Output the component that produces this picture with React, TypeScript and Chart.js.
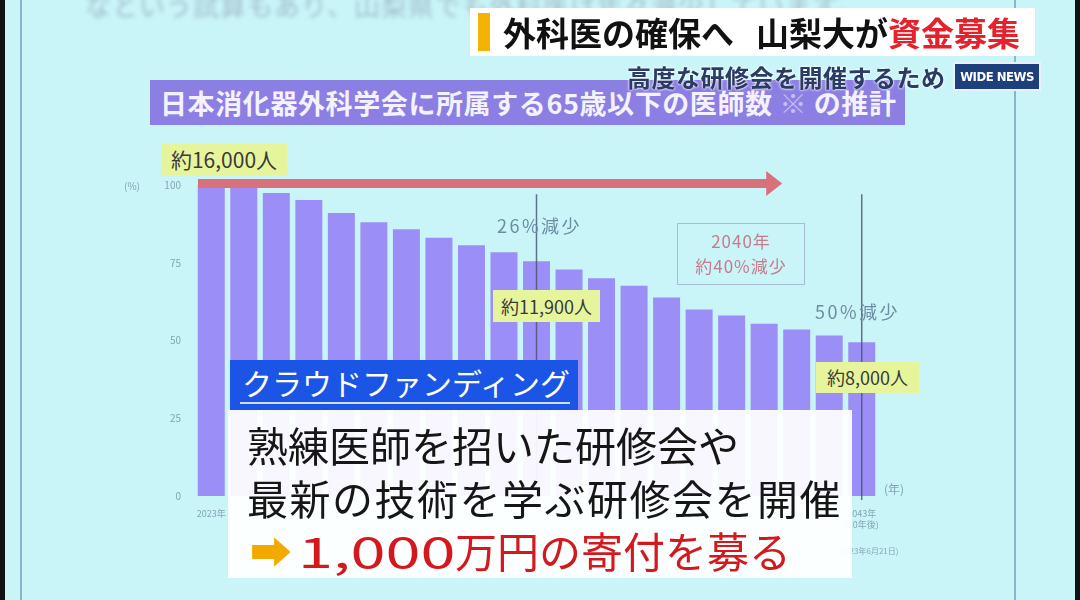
import React, { useEffect, useRef } from "react";
import { Chart, registerables } from "chart.js";

Chart.register(...registerables);

const years = ["2023","2024","2025","2026","2027","2028","2029","2030","2031","2032","2033","2034","2035","2036","2037","2038","2039","2040","2041","2042","2043"];
const percentOf2023 = [100, 99.5, 97.4, 95.2, 91, 88, 85.8, 83, 80.6, 78.4, 75.5, 72.8, 70, 67.6, 63.8, 60, 58, 55.4, 53.5, 51.6, 49.4];
const yTicks = [0, 25, 50, 75, 100];
const firstLabel = "2023年";
const lastLabel = ["2043年", "(20年後)"];
const markerIndexes = [10, 20];

const FONT = '"Noto Sans CJK JP", "Noto Sans", sans-serif';

const decorPlugin = {
  id: "decor",
  afterDatasetsDraw(chart: any) {
    const { ctx, chartArea, scales } = chart;
    const xs = scales.x;
    const ys = scales.y;
    ctx.save();
    ctx.strokeStyle = "rgba(70,80,110,0.8)";
    ctx.lineWidth = 1.5;
    markerIndexes.forEach((i) => {
      const x = xs.getPixelForValue(i);
      ctx.beginPath();
      ctx.moveTo(x, ys.getPixelForValue(97));
      ctx.lineTo(x, chartArea.bottom + 4);
      ctx.stroke();
    });
    const y = ys.getPixelForValue(100) - 2;
    const x0 = chartArea.left + 3;
    const x1 = xs.getPixelForValue(17) + 16;
    ctx.fillStyle = "#d9717d";
    ctx.fillRect(x0, y - 4, x1 - x0 - 12, 9);
    ctx.beginPath();
    ctx.moveTo(x1 - 14, y - 12);
    ctx.lineTo(x1 + 2, y + 0.5);
    ctx.lineTo(x1 - 14, y + 13);
    ctx.lineTo(x1 - 14, y - 12);
    ctx.fill();
    ctx.restore();
  },
};

function ChartCanvas() {
  const ref = useRef<HTMLCanvasElement | null>(null);
  useEffect(() => {
    if (!ref.current) return;
    const chart = new Chart(ref.current, {
      type: "bar",
      data: {
        labels: years,
        datasets: [
          {
            data: percentOf2023,
            backgroundColor: "#9b8ef6",
            barPercentage: 0.83,
            categoryPercentage: 1,
          },
        ],
      },
      options: {
        animation: false,
        responsive: false,
        maintainAspectRatio: false,
        layout: { padding: { left: 165, right: 202, top: 185, bottom: 64 } },
        plugins: { legend: { display: false }, tooltip: { enabled: false }, title: { display: false } },
        scales: {
          x: {
            grid: { display: false },
            border: { display: false },
            afterFit: (s: any) => { s.height = 40; },
            ticks: {
              autoSkip: false,
              maxRotation: 0,
              padding: 4,
              color: "#86a3b6",
              font: { size: 9, family: FONT },
              callback: (_v: any, i: number) => (i === 0 ? firstLabel : i === years.length - 1 ? lastLabel : ""),
            },
          },
          y: {
            min: 0,
            max: 100,
            grid: { display: false },
            border: { display: false },
            afterFit: (s: any) => { s.width = 30; },
            afterBuildTicks: (s: any) => { s.ticks = yTicks.map((v) => ({ value: v })); },
            ticks: { color: "#86a3b6", padding: 6, font: { size: 10, family: FONT } },
          },
        },
      },
      plugins: [decorPlugin],
    });
    return () => chart.destroy();
  }, []);
  return <canvas ref={ref} width={1080} height={600} style={{ position: "absolute", left: 0, top: 0, width: 1080, height: 600 }} />;
}

const abs = (l: number, t: number, extra: any = {}) => ({ position: "absolute" as const, left: l, top: t, ...extra });

export default function App() {
  return (
    <div style={{ position: "absolute", left: 0, top: 0, width: 1080, height: 600, overflow: "hidden", background: "#c9f5f8", fontFamily: FONT }}>
      <div style={abs(20, 0, { width: 2, height: 600, background: "#8fb3cc" })} />
      <div style={abs(1014, 0, { width: 2, height: 600, background: "#8fb3cc" })} />
      <div style={abs(0, 0, { width: 5, height: 600, background: "#111" })} />
      <div style={abs(1075, 0, { width: 5, height: 600, background: "#111" })} />
      <div style={abs(85, -14, { fontSize: 26, color: "#a3bccb", filter: "blur(2px)", whiteSpace: "nowrap", letterSpacing: 1 })}>
        なという試算もあり、山梨県でも外科医は年々減少しています。
      </div>
      <div style={abs(150, 80, { width: 755, height: 45, background: "#8c7fe3", color: "#f4f2ff", fontWeight: 700, fontSize: 27, lineHeight: "45px", paddingLeft: 10, boxSizing: "border-box", whiteSpace: "nowrap", letterSpacing: 0.6 })}>
        日本消化器外科学会に所属する65歳以下の医師数 <span style={{ color: "#c5bdf5" }}>※</span> の推計
      </div>
      <ChartCanvas />
      <div style={abs(124, 178, { fontSize: 10, color: "#86a3b6" })}>(%)</div>
      <div style={abs(884, 480, { fontSize: 12, color: "#86a3b6" })}>(年)</div>
      <div style={abs(838, 545, { fontSize: 8, color: "#86a3b6", whiteSpace: "nowrap" })}>(2023年6月21日)</div>
      <div style={abs(161, 144, { width: 126, height: 31, background: "#e6f59c", color: "#3a3a3a", fontSize: 21, lineHeight: "31px", textAlign: "center", whiteSpace: "nowrap" })}>約16,000人</div>
      <div style={abs(493, 290, { width: 107, height: 32, background: "#e6f59c", color: "#3a3a3a", fontSize: 18, lineHeight: "32px", textAlign: "center", whiteSpace: "nowrap" })}>約11,900人</div>
      <div style={abs(816, 362, { width: 103, height: 31, background: "#e6f59c", color: "#3a3a3a", fontSize: 18, lineHeight: "31px", textAlign: "center", whiteSpace: "nowrap" })}>約8,000人</div>
      <div style={abs(497, 212, { fontSize: 18, color: "#6d8ba2", whiteSpace: "nowrap", letterSpacing: 2.5 })}>26%減少</div>
      <div style={abs(815, 298, { fontSize: 18, color: "#6d8ba2", whiteSpace: "nowrap", letterSpacing: 2.5 })}>50%減少</div>
      <div style={abs(677, 223, { width: 128, height: 62, border: "1px solid #a9bcd6", boxSizing: "border-box", color: "#c57c8e", fontSize: 17, lineHeight: "25px", textAlign: "center", paddingTop: 4, letterSpacing: 1 })}>
        2040年<br />約40%減少
      </div>
      <div style={abs(470, 8, { width: 565, height: 48, background: "#ffffff" })} />
      <div style={abs(478, 13, { width: 12, height: 38, background: "#f2b400" })} />
      <div style={abs(503, 8, { fontSize: 33, fontWeight: 700, color: "#111", lineHeight: "48px", whiteSpace: "nowrap" })}>
        外科医の確保へ<span style={{ display: "inline-block", width: 22 }} />山梨大が<span style={{ color: "#e3222c" }}>資金募集</span>
      </div>
      <div style={abs(627, 59, { fontSize: 24, fontWeight: 700, color: "#2a3c63", whiteSpace: "nowrap", letterSpacing: 0.5, textShadow: "0 0 3px #fff, 0 0 2px #fff" })}>高度な研修会を開催するため</div>
      <div style={abs(953, 62, { width: 88, height: 29, background: "#1d3f7c", border: "2px solid #eaf2ff", boxSizing: "border-box", color: "#fff", fontSize: 13, fontWeight: 700, lineHeight: "25px", textAlign: "center", fontFamily: '"Liberation Sans Narrow", "DejaVu Sans Condensed", sans-serif', letterSpacing: -0.5 })}>WIDE NEWS</div>
      <div style={abs(228, 410, { width: 624, height: 168, background: "rgba(255,255,255,0.93)" })} />
      <div style={abs(230, 360, { width: 348, height: 50, background: "#1a55e6" })} />
      <div style={abs(242, 361, { fontSize: 30, color: "#ffffff", lineHeight: "42px", whiteSpace: "nowrap" })}>クラウドファンディング</div>
      <div style={abs(240, 402, { width: 330, height: 2, background: "#cfe0ff" })} />
      <div style={abs(247, 418, { fontSize: 41, color: "#161616", lineHeight: "52px", whiteSpace: "nowrap" })}>熟練医師を招いた研修会や</div>
      <div style={abs(247, 471, { fontSize: 41, color: "#161616", lineHeight: "52px", whiteSpace: "nowrap", letterSpacing: 1.5 })}>最新の技術を学ぶ研修会を開催</div>
      <div style={abs(250, 525, { fontSize: 42, color: "#f2aa00", lineHeight: "50px", whiteSpace: "nowrap" })}>➡</div>
      <div style={abs(298, 524, { fontSize: 42, color: "#d3191d", lineHeight: "52px", whiteSpace: "nowrap" })}>
        <span style={{ display: "inline-block", transform: "scaleX(1.5)", transformOrigin: "left center", marginRight: 52 }}>1,000</span>万円の寄付を募る
      </div>
    </div>
  );
}
